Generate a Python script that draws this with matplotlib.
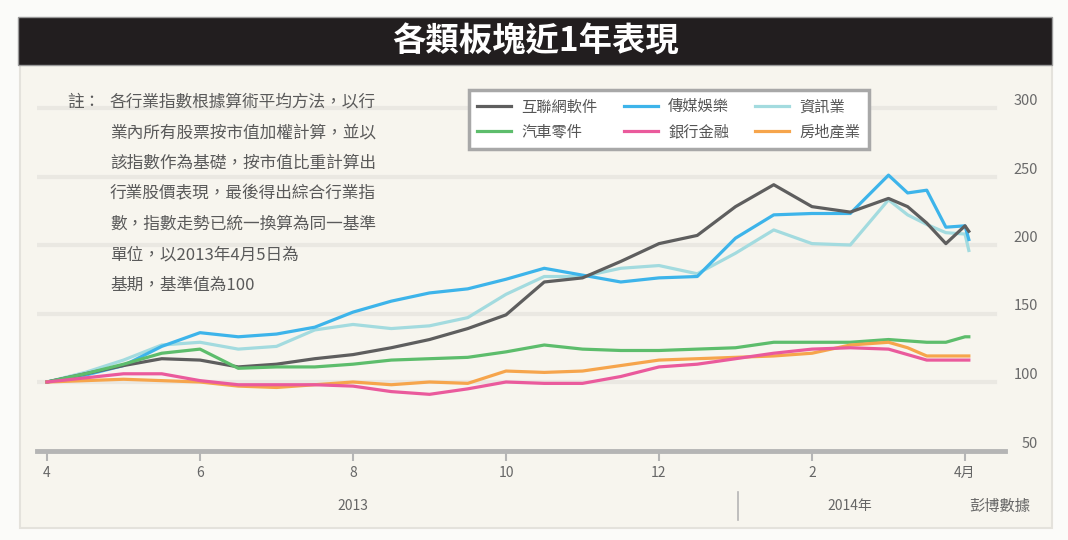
import matplotlib as mpl
mpl.use('Agg')
import matplotlib.pyplot as plt
import matplotlib.patches as patches
from matplotlib.transforms import blended_transform_factory

plt.rcParams['font.family'] = ['Noto Sans CJK TC', 'DejaVu Sans']

# months after 1 Apr 2013
months = [0, 0.5, 1, 1.5, 2, 2.5, 3, 3.5, 4, 4.5, 5, 5.5, 6, 6.5, 7, 7.5,
          8, 8.5, 9, 9.5, 10, 10.5, 11, 11.25, 11.5, 11.75, 12, 12.05]

grey = [100, 106, 112, 117, 116, 111, 113, 117, 120, 125, 131, 139, 149, 173,
        176, 188, 201, 207, 228, 244, 228, 224, 234, 228, 216, 201, 214, 210]
blue = [100, 105, 112, 126, 136, 133, 135, 140, 151, 159, 165, 168, 175, 183,
        178, 173, 176, 177, 205, 222, 223, 223, 251, 238, 240, 213, 214, 204]
teal = [100, 107, 116, 127, 129, 124, 126, 138, 142, 139, 141, 147, 164, 177,
        177, 183, 185, 179, 194, 211, 201, 200, 233, 222, 215, 209, 208, 196]
green = [100, 106, 113, 121, 124, 110, 111, 111, 113, 116, 117, 118, 122, 127,
         124, 123, 123, 124, 125, 129, 129, 129, 131, 130, 129, 129, 133, 133]
pink = [100, 103, 106, 106, 101, 98, 98, 98, 97, 93, 91, 95, 100, 99,
        99, 104, 111, 113, 117, 121, 124, 125, 124, 120, 116, 116, 116, 116]
orange = [100, 101, 102, 101, 100, 97, 96, 98, 100, 98, 100, 99, 108, 107,
          108, 112, 116, 117, 118, 119, 121, 127, 129, 125, 119, 119, 119, 119]

labels = ['互聯網軟件', '傳媒娛樂', '資訊業', '汽車零件', '銀行金融', '房地產業']
colors = ['#5e5e5e', '#3db4ea', '#a3dbdf', '#5dbd6c', '#ea5a9c', '#f6a54c']

xtick_pos = [0, 2, 4, 6, 8, 10, 12]
xtick_lab = ['4', '6', '8', '10', '12', '2', '4月']
yticks = [50, 100, 150, 200, 250, 300]

title = '各類板塊近1年表現'
note = ['各行業指數根據算術平均方法，以行',
        '業內所有股票按市值加權計算，並以',
        '該指數作為基礎，按市值比重計算出',
        '行業股價表現，最後得出綜合行業指',
        '數，指數走勢已統一換算為同一基準',
        '單位，以2013年4月5日為',
        '基期，基準值為100']

W, H = 1068, 540
fig = plt.figure(figsize=(W / 100, H / 100), dpi=100, facecolor='#fbfbf9')

# cream panel and black title bar
fig.patches.append(patches.Rectangle((20 / W, 1 - 528 / H), 1032 / W, 463 / H,
                                     transform=fig.transFigure, facecolor='#f7f5ee',
                                     edgecolor='#e4e2dc', linewidth=1.5, zorder=-10))
fig.patches.append(patches.Rectangle((18 / W, 1 - 65 / H), 1034 / W, 48 / H,
                                     transform=fig.transFigure, facecolor='#221e1f',
                                     edgecolor='#9a9a9a', linewidth=1, zorder=-10))
fig.text(536 / W, 1 - 42 / H, title, color='white', fontsize=24, fontweight='bold',
         ha='center', va='center')

ax = fig.add_axes([37 / W, 1 - 450.5 / H, 968 / W, 375.5 / H])
ax.set_facecolor('none')
ax.set_xlim(-10 / 76.5, 958 / 76.5)
ax.set_ylim(50, 100 + (450.5 - 75 - 68.5) / 68.5 * 50)

for v in yticks[1:]:
    ax.axhline(v, xmin=0, xmax=0.99, color='#eae8e2', linewidth=3, zorder=1)

series = [teal, blue, grey, green, orange, pink]
order = [2, 1, 0, 3, 5, 4]
handles = {}
for s, i in zip(series, order):
    ln, = ax.plot(months, s, color=colors[i], linewidth=2.3, zorder=3,
                  solid_joinstyle='round', label=labels[i])
    handles[i] = ln

for sp in ['top', 'left', 'right']:
    ax.spines[sp].set_visible(False)
ax.spines['bottom'].set_color('#b5b5b5')
ax.spines['bottom'].set_linewidth(3.5)
ax.set_yticks([])
ax.set_xticks(xtick_pos)
ax.set_xticklabels(xtick_lab, fontsize=10, color='#666666')
ax.tick_params(axis='x', direction='out', length=7, width=1.5, color='#b5b5b5', pad=4)

ytr = blended_transform_factory(ax.transAxes, ax.transData)
for v in yticks:
    ax.text(1.034, v, str(v), transform=ytr, ha='right', va='bottom',
            fontsize=10.5, color='#6a6a6a', clip_on=False)

# year row under the axis
btr = blended_transform_factory(ax.transData, fig.transFigure)
ax.text(4, 1 - 506 / H, '2013', transform=btr, ha='center', va='center',
        fontsize=10, color='#666666')
ax.text(10.5, 1 - 506 / H, '2014年', transform=btr, ha='center', va='center',
        fontsize=10, color='#666666')
ax.text(12.45, 1 - 506 / H, '彭博數據', transform=btr, ha='center', va='center',
        fontsize=11, color='#666666')
ax.plot([9.03, 9.03], [1 - 492 / H, 1 - 520 / H], transform=btr, color='#b5b5b5',
        linewidth=1.2, clip_on=False)

# note block
fig.text(67 / W, 1 - 102 / H, '註：', fontsize=12, color='#5a5a5a', va='center')
for k, line in enumerate(note):
    fig.text(110 / W, 1 - (102 + 30.5 * k) / H, line, fontsize=12, color='#5a5a5a',
             va='center')

# legend rows: (grey, blue, teal) over (green, pink, orange); matplotlib fills by column
leg_order = [0, 3, 1, 4, 2, 5]
leg = ax.legend([handles[i] for i in leg_order], [labels[i] for i in leg_order],
                ncol=3, loc='upper left', borderaxespad=0,
                bbox_to_anchor=(469 / W, 1 - 90 / H), bbox_transform=fig.transFigure,
                fontsize=11, handlelength=2.2, handletextpad=0.7, columnspacing=1.7,
                labelspacing=0.55, borderpad=0.55, fancybox=False, framealpha=1,
                facecolor='white', edgecolor='#a8a8a8')
leg.get_frame().set_linewidth(2.5)
for t in leg.get_texts():
    t.set_color('#555555')

fig.savefig('out.png', dpi=100, facecolor=fig.get_facecolor())
